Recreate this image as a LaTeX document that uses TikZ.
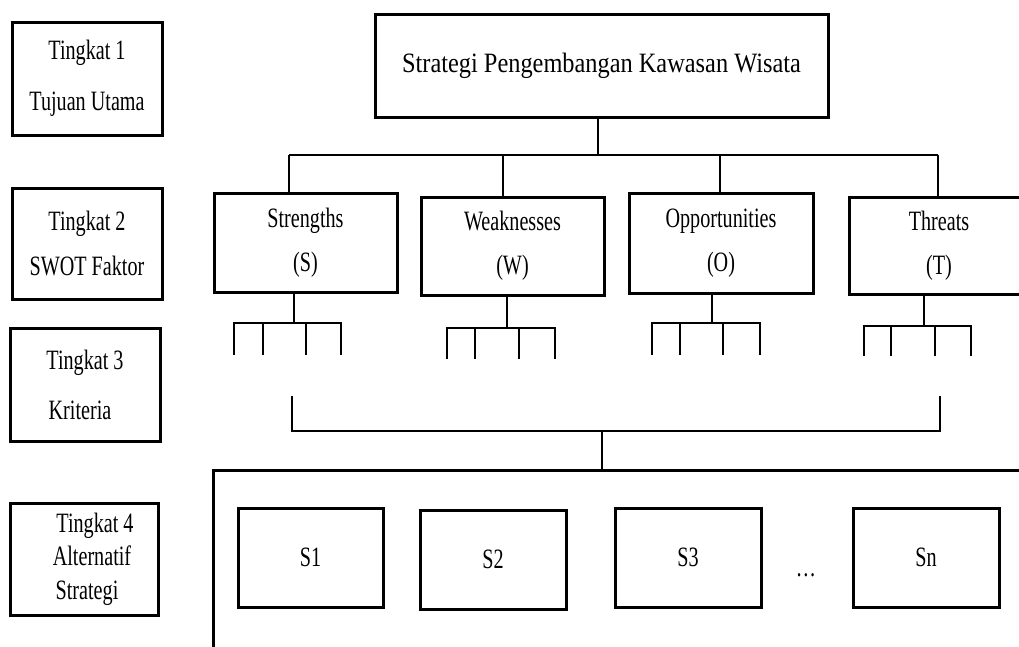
\documentclass[tikz,border=0pt]{standalone}
\usepackage{fontspec}
\setmainfont{Liberation Serif}
\newfontfamily\condf[FakeStretch=0.72]{Liberation Serif}
\newfontfamily\titlef[FakeStretch=0.87]{Liberation Serif}
\begin{document}
\begin{tikzpicture}[x=1pt,y=-1pt,
  box/.style={draw, line width=3pt, inner sep=0pt, align=center, font=\condf\fontsize{28}{44}\selectfont},
  conn/.style={line width=2.4pt},
  lsp/.style={font=\condf\fontsize{28}{#1}\selectfont}]
\useasboundingbox (0,0) rectangle (1019,646);
\clip (0,0) rectangle (1019,646);
\fill[white] (0,0) rectangle (1019,646);

% level labels
\node[box, lsp=51, minimum width=150pt, minimum height=113pt] (t1) at (87,78.5) {Tingkat 1\\Tujuan Utama};
\node[box, lsp=45, minimum width=150pt, minimum height=111pt] (t2) at (87,243.5) {Tingkat 2\\SWOT Faktor};
\node[box, lsp=50, minimum width=150pt, minimum height=113pt] (t3) at (85,384.5) {Tingkat 3\\Kriteria\hspace*{10pt}};
\node[box, lsp=33.5, minimum width=148pt, minimum height=112pt] (t4) at (84,559) {\hspace*{22pt}Tingkat 4\\\hspace*{16pt}Alternatif\\\hspace*{6pt}Strategi};

% goal
\node[box, font=\titlef\fontsize{28}{30}\selectfont, minimum width=453pt, minimum height=103pt] (top) at (601.5,65.5) {Strategi Pengembangan Kawasan Wisata};

% SWOT factors
\node[box, minimum width=183pt, minimum height=99pt] (s) at (305.5,242.5) {Strengths\\(S)};
\node[box, minimum width=183pt, minimum height=98pt] (w) at (512.5,246) {Weaknesses\\(W)};
\node[box, minimum width=184pt, minimum height=100pt] (o) at (721,243) {Opportunities\\(O)};
\node[box, minimum width=180pt, minimum height=97pt] (t) at (939,245.5) {Threats\\(T)};

% bus from goal to factors
\coordinate (busM) at (598,155);
\coordinate (busS) at (289,155);
\coordinate (busW) at (503,155);
\coordinate (busO) at (720,155);
\coordinate (busT) at (938,155);
\draw[conn] (busM |- top.south) -- (busM);
\draw[conn] (busS) -- (busT);
\draw[conn] (busS) -- (busS |- s.north);
\draw[conn] (busW) -- (busW |- w.north);
\draw[conn] (busO) -- (busO |- o.north);
\draw[conn] (busT) -- (busT |- t.north);

% criteria brackets
\foreach \n/\xs/\by/\a/\b/\c/\d/\bot in {s/294/323/234/263/306/341/355, w/507/328/447/475/519/555/359, o/712/323/652/680/723/760/355, t/924/326/864/891/935/971/356}{
  \coordinate (\n stem) at (\xs,\by);
  \draw[conn] (\n stem |- \n.south) -- (\n stem);
  \draw[conn] (\a,\bot) -- (\a,\by) -- (\d,\by) -- (\d,\bot);
  \draw[conn] (\b,\by) -- (\b,\bot);
  \draw[conn] (\c,\by) -- (\c,\bot);
}

% alternatives container
\node[draw, line width=3pt, inner sep=0pt, minimum width=827pt, minimum height=210pt] (alt) at (626.5,575) {};

% collector
\coordinate (cLt) at (292,396);
\coordinate (cRt) at (940,396);
\coordinate (cL) at (292,431);
\coordinate (cR) at (940,431);
\coordinate (cM) at (602,431);
\draw[conn] (cLt) -- (cL) -- (cR) -- (cRt);
\draw[conn] (cM) -- (cM |- alt.north);

% strategies
\node[box, minimum width=145pt, minimum height=99pt] (s1) at (310.5,557.5) {S1};
\node[box, minimum width=146pt, minimum height=99pt] (s2) at (493,559.5) {S2};
\node[box, minimum width=146pt, minimum height=99pt] (s3) at (688,557.5) {S3};
\node[box, minimum width=146pt, minimum height=99pt] (sn) at (926,557.5) {Sn};
\node[lsp=30, inner sep=0pt] (dots) at (806,575) {\ldots};
\end{tikzpicture}
\end{document}
